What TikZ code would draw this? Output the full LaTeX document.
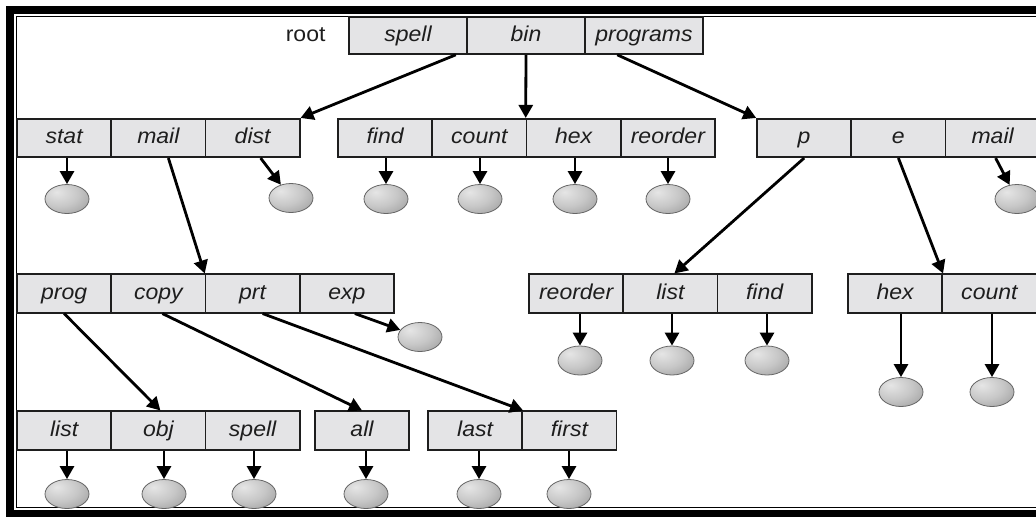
\documentclass[tikz,border=0pt]{standalone}
\usepackage{fontspec}
\newfontfamily\lblfont[FakeStretch=1.07]{Liberation Sans}
\usetikzlibrary{arrows.meta,shapes.geometric}

% soft grey shading for the file ovals, lit from the upper left
\pgfdeclareradialshading{ovalshade}{\pgfpoint{-12bp}{12bp}}{%
  color(0bp)=(black!10); color(22bp)=(black!22); color(48bp)=(black!42);
  color(72bp)=(black!58); color(100bp)=(black!58)}

\definecolor{cellfill}{HTML}{E4E4E6}
\definecolor{inkdark}{HTML}{1E1E1E}

\tikzset{
  cell/.style={draw=inkdark, line width=1.6pt, fill=cellfill, inner sep=0pt,
    minimum width=94.25pt, minimum height=38.5pt, text=inkdark,
    text height=15.5pt, text depth=4.5pt,
    font=\lblfont\itshape\fontsize{21.5}{24}\selectfont},
  topcell/.style={cell, minimum width=118pt, minimum height=37pt},
  fileoval/.style={ellipse, draw=black!60, line width=0.8pt, shading=ovalshade,
    minimum width=44pt, minimum height=29pt, inner sep=0pt},
  arr/.style={draw=black, line width=2.8pt,
    -{Triangle[length=13pt,width=14pt]}},
  framethick/.style={line width=7.5pt, draw=black},
  framethin/.style={line width=1.4pt, draw=black},
}

\begin{document}
\begin{tikzpicture}[x=1pt,y=-1pt]
\useasboundingbox (0,0) rectangle (1036,517);
\clip (0,0) rectangle (1036,517);
\fill[white] (0,0) rectangle (1036,517);

% double frame, open on the right
\draw[framethick] (1060,9.75) -- (10,9.75) -- (10,513.5) -- (1060,513.5);
\draw[framethin] (1060,16.2) -- (16.3,16.2) -- (16.3,507.3) -- (1060,507.3);

% root directory
\node[anchor=east, text=inkdark, text height=15.5pt, text depth=4.5pt,
  font=\lblfont\fontsize{21.5}{24}\selectfont]
  (rootlbl) at (329,35.5) {root};
\node[topcell] (spell) at (408,35.5) {spell};
\node[topcell] (bin) at (526,35.5) {bin};
\node[topcell] (programs) at (644,35.5) {programs};

% second level
\node[cell] (stat) at (64.125,138) {stat};
\node[cell] (mailA) at (158.375,138) {mail};
\node[cell] (dist) at (252.625,138) {dist};
\node[cell] (find) at (385.125,138) {find};
\node[cell] (countA) at (479.375,138) {count};
\node[cell] (hexA) at (573.625,138) {hex};
\node[cell] (reorderA) at (667.875,138) {reorder};
\node[cell] (p) at (804.125,138) {p};
\node[cell] (e) at (898.375,138) {e};
\node[cell] (mailB) at (992.625,138) {mail};

% third level
\node[cell] (prog) at (64.125,293.5) {prog};
\node[cell] (copy) at (158.375,293.5) {copy};
\node[cell] (prt) at (252.625,293.5) {prt};
\node[cell] (exp) at (346.875,293.5) {exp};
\node[cell] (reorderB) at (576.125,293.5) {reorder};
\node[cell] (listB) at (670.375,293.5) {list};
\node[cell] (findB) at (764.625,293.5) {find};
\node[cell] (hexB) at (895.125,293.5) {hex};
\node[cell] (countB) at (989.375,293.5) {count};

% fourth level
\node[cell] (listC) at (64.125,430.5) {list};
\node[cell] (obj) at (158.375,430.5) {obj};
\node[cell] (spellC) at (252.625,430.5) {spell};
\node[cell] (all) at (362,430.5) {all};
\node[cell] (last) at (475.125,430.5) {last};
\node[cell] (first) at (569.375,430.5) {first};

% plain files
\node[fileoval] (o-stat) at (67,199) {};
\node[fileoval] (o-dist) at (291,198) {};
\node[fileoval] (o-find) at (386,199) {};
\node[fileoval] (o-count) at (480,199) {};
\node[fileoval] (o-hex) at (575,199) {};
\node[fileoval] (o-reorder) at (668,199) {};
\node[fileoval] (o-mailB) at (1017,199) {};
\node[fileoval] (o-exp) at (420,337) {};
\node[fileoval] (o-reorderB) at (580,360.5) {};
\node[fileoval] (o-listB) at (672,360.5) {};
\node[fileoval] (o-findB) at (767,360.5) {};
\node[fileoval] (o-hexB) at (901,392) {};
\node[fileoval] (o-countB) at (992,392) {};
\node[fileoval] (o-listC) at (67,494) {};
\node[fileoval] (o-obj) at (164,494) {};
\node[fileoval] (o-spellC) at (254,494) {};
\node[fileoval] (o-all) at (366,494) {};
\node[fileoval] (o-last) at (479,494) {};
\node[fileoval] (o-first) at (569,494) {};

% directory links
\draw[arr] ([xshift=-12pt]spell.south east) -- (dist.north east);
\draw[arr] (bin.south) -- (hexA.north west);
\draw[arr] ([xshift=33pt]programs.south west) -- (p.north west);
\draw[arr] ([xshift=10pt]mailA.south) -- (prt.north west);
\draw[arr] (p.south) -- ([xshift=4pt]listB.north);
\draw[arr] (e.south) -- (hexB.north east);
\draw[arr] (prog.south) -- ([xshift=2pt]obj.north);
\draw[arr] ([xshift=4pt]copy.south) -- (all.north);
\draw[arr] ([xshift=10pt]prt.south) -- (last.north east);

% file links
\draw[arr] (o-stat.north |- stat.south) -- (o-stat);
\draw[arr] ([xshift=8pt]dist.south) -- (o-dist);
\draw[arr] (o-find.north |- find.south) -- (o-find);
\draw[arr] (o-count.north |- countA.south) -- (o-count);
\draw[arr] (o-hex.north |- hexA.south) -- (o-hex);
\draw[arr] (o-reorder.north |- reorderA.south) -- (o-reorder);
\draw[arr] ([xshift=3pt]mailB.south) -- (o-mailB);
\draw[arr] ([xshift=8pt]exp.south) -- (o-exp);
\draw[arr] (o-reorderB.north |- reorderB.south) -- (o-reorderB);
\draw[arr] (o-listB.north |- listB.south) -- (o-listB);
\draw[arr] (o-findB.north |- findB.south) -- (o-findB);
\draw[arr] (o-hexB.north |- hexB.south) -- (o-hexB);
\draw[arr] (o-countB.north |- countB.south) -- (o-countB);
\draw[arr] (o-listC.north |- listC.south) -- (o-listC);
\draw[arr] (o-obj.north |- obj.south) -- (o-obj);
\draw[arr] (o-spellC.north |- spellC.south) -- (o-spellC);
\draw[arr] (o-all.north |- all.south) -- (o-all);
\draw[arr] (o-last.north |- last.south) -- (o-last);
\draw[arr] (o-first.north |- first.south) -- (o-first);
\end{tikzpicture}
\end{document}
